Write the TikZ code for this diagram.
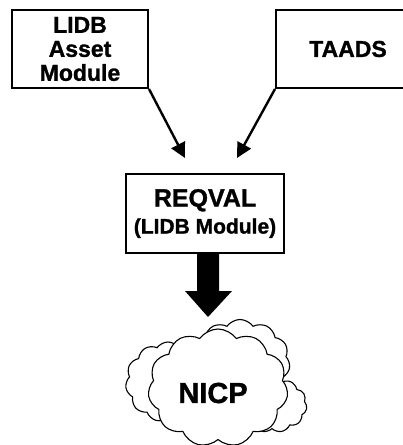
\documentclass[tikz,border=0pt]{standalone}
\usepackage{fontspec}
\setmainfont{Liberation Sans}[BoldFeatures={FakeBold=1.2}]
\usetikzlibrary{arrows.meta,shapes.symbols,calc}
\begin{document}
\begin{tikzpicture}[x=1pt,y=-1pt,
  box/.style={draw, line width=2pt, align=center, inner sep=0pt},
  conn/.style={line width=2.4pt, -{Triangle[length=15pt,width=15pt]}},
  puff/.style={cloud, draw, fill=white, line width=1.1pt, cloud puffs=11, cloud puff arc=110, inner sep=0pt}]
\useasboundingbox (0,0) rectangle (403,445);
\node[box, minimum width=136pt, minimum height=78pt, font=\fontsize{23}{24}\selectfont\bfseries] (lidb) at (80,49) {LIDB\\Asset\\Module};
\node[box, minimum width=144pt, minimum height=78pt, font=\fontsize{23}{24}\selectfont\bfseries] (taads) at (348,49) {TAADS};
\node[box, minimum width=158pt, minimum height=79pt, font=\fontsize{21}{27}\selectfont\bfseries] (req) at (205,213.5) {{\fontsize{25}{27}\selectfont REQVAL}\\(LIDB Module)};
\coordinate (t1) at (185,158);
\coordinate (t2) at (237,158);
\draw[conn] (lidb.south east) -- (t1);
\draw[conn] (taads.south west) -- (t2);
% clouds
\node[puff, minimum width=85pt, minimum height=80pt] (c1) at (168,382) {};
\node[puff, minimum width=70pt, minimum height=55pt] (c2) at (272,405) {};
\node[puff, minimum width=100pt, minimum height=85pt] (c3) at (240,362) {};
\node[puff, minimum width=140pt, minimum height=118pt] (nicp) at (218,388) {};
\node[font=\fontsize{29}{30}\selectfont\bfseries] (lbl) at (213,393) {NICP};
% thick arrow
\coordinate (tip) at ($(req.south)+(3,63)$);
\fill ($(req.south)+(-8,0)$) -- ++(22,0) -- ++(0,37) -- ++(13,0) -- (tip) -- ++(-23,-26) -- ++(12,0) -- cycle;
\end{tikzpicture}
\end{document}
